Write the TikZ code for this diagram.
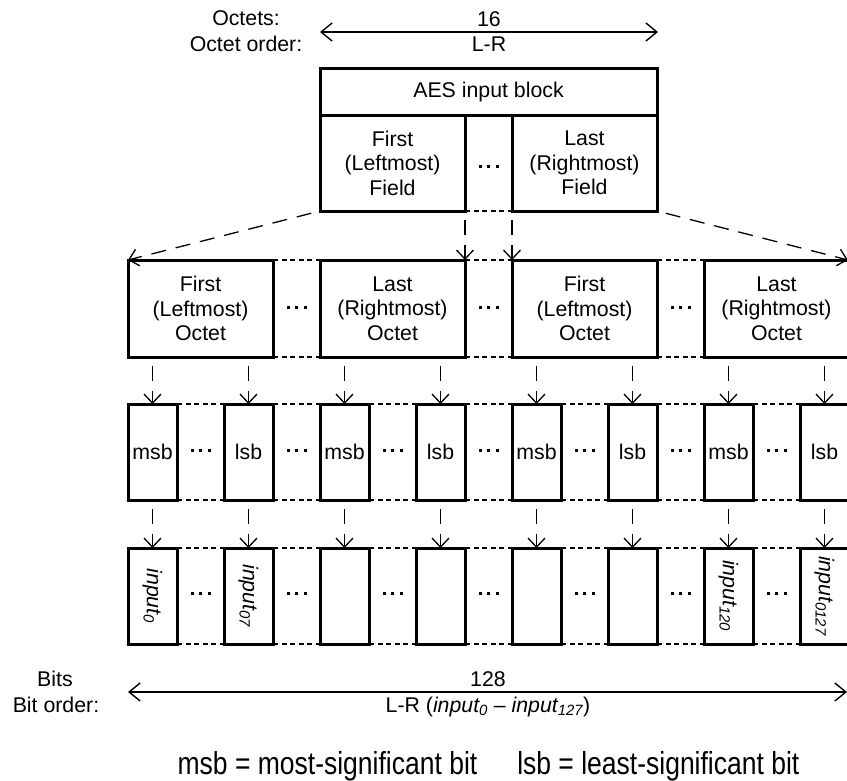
\documentclass[tikz,border=0pt]{standalone}
\usepackage{fontspec}
\setmainfont{Liberation Sans}
\usetikzlibrary{arrows.meta,calc}
\newcommand{\threedots}{\rule{3pt}{3pt}\hspace{5.5pt}\rule{3pt}{3pt}\hspace{5.5pt}\rule{3pt}{3pt}}
\begin{document}
\begin{tikzpicture}[x=1pt,y=-1pt,
  every node/.style={font=\fontsize{21.3}{24.5}\selectfont, inner sep=0pt, outer sep=0pt, align=center},
  box/.style={draw, line width=3pt, fill=white},
  octetbox/.style={box, minimum width=145pt, minimum height=97pt},
  bitbox/.style={box, minimum width=49pt, minimum height=96pt},
  gapline/.style={line width=2.6pt, dash pattern=on 5pt off 3.5pt},
  darr/.style={line width=1.3pt, dash pattern=on 15pt off 10pt, dash phase=16pt,
    -{Straight Barb[length=9pt,width=17pt,line width=1.3pt]}},
  dimarr/.style={line width=1.4pt,
    {Straight Barb[length=11pt,width=18pt,line width=1.4pt]}-{Straight Barb[length=11pt,width=18pt,line width=1.4pt]}},
  dots/.style={}
]
\useasboundingbox (0,0) rectangle (847,780);

% top dimension
\coordinate (tl) at (320,32);
\coordinate (tr) at (658,32);
\draw[dimarr] (tl) -- (tr);
\node (oc) at (246,18) {Octets:};
\node (oo) at (246,44) {Octet order:};
\node (n16) at (489,19) {16};
\node (lr1) at (489,44) {L-R};

% AES block and fields
\node[box, minimum width=337pt, minimum height=47pt] (aes) at (488.5,91.5) {AES input block};
\node[box, minimum width=145pt, minimum height=96pt] (fl) at (392.5,163) {First\\(Leftmost)\\Field};
\node[box, minimum width=145pt, minimum height=96pt] (fr) at (584.5,163) {Last\\(Rightmost)\\Field};
\draw[gapline] (fl.south east) -- (fr.south west);
\node[dots] (fd) at (488.5,166) {\threedots};

% octets
\foreach \i/\t in {0/{First\\(Leftmost)\\Octet},1/{Last\\(Rightmost)\\Octet},2/{First\\(Leftmost)\\Octet},3/{Last\\(Rightmost)\\Octet}}{
  \node[octetbox] (o\i) at ({200.5+192*\i},308.5) {\t};
}
\foreach \i/\j in {0/1,1/2,2/3}{
  \draw[gapline] (o\i.north east) -- (o\j.north west);
  \draw[gapline] (o\i.south east) -- (o\j.south west);
  \node[dots] (od\i) at ($(o\i.east)!0.5!(o\j.west)+(0,-1.5)$) {\threedots};
}

% field -> octet arrows
\draw[darr] (fl.south west) -- (o0.north west);
\draw[darr] (fl.south east) -- (o1.north east);
\draw[darr] (fr.south west) -- (o2.north west);
\draw[darr] (fr.south east) -- ([xshift=-1pt]o3.north east);

% bits
\foreach \i/\t in {0/msb,1/lsb,2/msb,3/lsb,4/msb,5/lsb,6/msb,7/lsb}{
  \node[bitbox] (b\i) at ({152.5+96*\i},452) {\t};
}
\node[bitbox] (c0) at (152.5,596) {\rotatebox{-90}{\textit{input\textsubscript{0}}}};
\node[bitbox] (c1) at (248.5,596) {\rotatebox{-90}{\textit{input\textsubscript{07}}}};
\node[bitbox] (c2) at (344.5,596) {};
\node[bitbox] (c3) at (440.5,596) {};
\node[bitbox] (c4) at (536.5,596) {};
\node[bitbox] (c5) at (632.5,596) {};
\node[bitbox] (c6) at (728.5,596) {\rotatebox{-90}{\textit{input\textsubscript{120}}}};
\node[bitbox] (c7) at (824.5,596) {\rotatebox{-90}{\textit{input\textsubscript{0127}}}};

\foreach \i/\j in {0/1,1/2,2/3,3/4,4/5,5/6,6/7}{
  \draw[gapline] (b\i.north east) -- (b\j.north west);
  \draw[gapline] (b\i.south east) -- (b\j.south west);
  \node[dots] (bd\i) at ($(b\i.east)!0.5!(b\j.west)+(0,-2)$) {\threedots};
  \draw[gapline] (c\i.north east) -- (c\j.north west);
  \draw[gapline] (c\i.south east) -- (c\j.south west);
  \node[dots] (cd\i) at ($(c\i.east)!0.5!(c\j.west)+(0,-3)$) {\threedots};
}
\foreach \i/\k in {0/0,1/0,2/1,3/1,4/2,5/2,6/3,7/3}{
  \draw[darr] (b\i.north |- o\k.south) -- (b\i.north);
  \draw[darr] (b\i.south) -- (c\i.north);
}

% bottom dimension
\coordinate (bl) at (128,692);
\coordinate (br) at (847,692);
\draw[dimarr] (bl) -- (br);
\node (bits) at (55,679) {Bits};
\node (bo) at (56,705) {Bit order:};
\node (n128) at (488,679) {128};
\node (lr2) at (488,707) {L-R (\textit{input\textsubscript{0} – input\textsubscript{127}})};

% legend
\node[anchor=base, font=\fontsize{26.5}{30}\selectfont] (leg) at (488.5,774)
  {\scalebox{1}[1.2]{msb = most-significant bit\hspace{40pt}lsb = least-significant bit}};
\end{tikzpicture}
\end{document}
